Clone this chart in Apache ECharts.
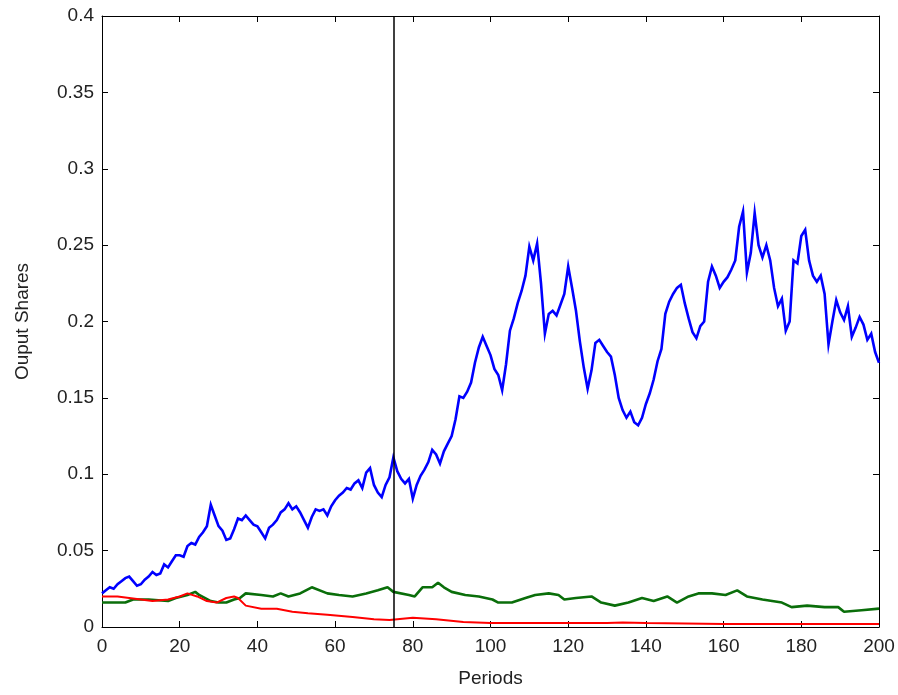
<!DOCTYPE html>
<html>
<head>
<meta charset="utf-8">
<script src="https://cdn.jsdelivr.net/npm/echarts@6/dist/echarts.min.js"></script>
<style>
  html, body { margin: 0; padding: 0; background: #fff; }
  #main { width: 898px; height: 695px; }
</style>
</head>
<body>
<div id="main"></div>
<script>
// output shares, blue series: one value per period 0..200
var blueShare = [
  0.022, 0.024, 0.026, 0.025, 0.028, 0.030, 0.032, 0.033, 0.030, 0.027,
  0.028, 0.031, 0.033, 0.036, 0.034, 0.035, 0.041, 0.039, 0.043, 0.047,
  0.047, 0.046, 0.053, 0.055, 0.054, 0.059, 0.062, 0.066, 0.080, 0.073,
  0.066, 0.063, 0.057, 0.058, 0.064, 0.071, 0.070, 0.073, 0.070, 0.067,
  0.066, 0.062, 0.058, 0.065, 0.067, 0.070, 0.075, 0.077, 0.081, 0.077,
  0.079, 0.075, 0.070, 0.065, 0.072, 0.077, 0.076, 0.077, 0.073, 0.079,
  0.083, 0.086, 0.088, 0.091, 0.090, 0.094, 0.096, 0.091, 0.101, 0.104,
  0.093, 0.088, 0.085, 0.093, 0.098, 0.111, 0.102, 0.097, 0.094, 0.097,
  0.084, 0.093, 0.099, 0.103, 0.108, 0.116, 0.113, 0.107, 0.115, 0.120,
  0.125, 0.136, 0.151, 0.150, 0.154, 0.160, 0.173, 0.183, 0.190, 0.184,
  0.178, 0.169, 0.165, 0.155, 0.172, 0.194, 0.202, 0.212, 0.220, 0.230,
  0.249, 0.240, 0.251, 0.225, 0.192, 0.205, 0.207, 0.204, 0.211, 0.218,
  0.236, 0.222, 0.207, 0.187, 0.170, 0.156, 0.168, 0.186, 0.188, 0.184,
  0.180, 0.177, 0.165, 0.150, 0.142, 0.137, 0.141, 0.134, 0.132, 0.137,
  0.146, 0.153, 0.162, 0.174, 0.182, 0.205, 0.213, 0.218, 0.222, 0.224,
  0.212, 0.202, 0.193, 0.189, 0.197, 0.200, 0.226, 0.236, 0.230, 0.222,
  0.226, 0.229, 0.234, 0.240, 0.262, 0.272, 0.232, 0.245, 0.271, 0.250,
  0.242, 0.250, 0.240, 0.222, 0.210, 0.215, 0.194, 0.200, 0.240, 0.238,
  0.256, 0.260, 0.240, 0.230, 0.226, 0.230, 0.218, 0.185, 0.200, 0.214,
  0.206, 0.201, 0.210, 0.190, 0.196, 0.203, 0.198, 0.188, 0.192, 0.180,
  0.173
];

// green series
var greenPeriods = [0, 3, 6, 8, 12, 17, 19, 22, 24, 25, 28, 30, 32, 34, 35.5, 37, 41, 44, 46, 48,
  51, 54, 58, 61, 64.5, 68, 71, 73.5, 75, 79, 80.5, 82.5, 85, 86.5, 88, 90, 93.5, 97, 100.5, 102,
  105.5, 109, 111.5, 115, 117.5, 119, 122, 126, 128.5, 132, 135.5, 139, 142, 145.5, 148, 151, 153.5, 157, 160.5, 163.5,
  166, 170, 172.5, 175, 177.5, 181.5, 186, 189.5, 191, 195.5, 200];
var greenShare = [0.016, 0.016, 0.016, 0.018, 0.018, 0.017, 0.019, 0.021, 0.023, 0.021, 0.017, 0.016, 0.016, 0.018, 0.019, 0.022, 0.021, 0.020, 0.022, 0.020,
  0.022, 0.026, 0.022, 0.021, 0.020, 0.022, 0.024, 0.026, 0.023, 0.021, 0.020, 0.026, 0.026, 0.029, 0.026, 0.023, 0.021, 0.020, 0.018, 0.016,
  0.016, 0.019, 0.021, 0.022, 0.021, 0.018, 0.019, 0.020, 0.016, 0.014, 0.016, 0.019, 0.017, 0.020, 0.016, 0.020, 0.022, 0.022, 0.021, 0.024,
  0.020, 0.018, 0.017, 0.016, 0.013, 0.014, 0.013, 0.013, 0.010, 0.011, 0.012];

// red series
var redPeriods = [0, 4, 10, 13, 17, 20, 22, 24.5, 27, 29.5, 32, 34, 35, 37, 41, 45, 49, 53, 58, 64.5,
  70, 74, 80, 86, 93, 100, 130, 134, 140, 160, 200];
var redShare = [0.020, 0.020, 0.018, 0.017, 0.018, 0.020, 0.022, 0.020, 0.017, 0.016, 0.019, 0.020, 0.019, 0.014, 0.012, 0.012, 0.010, 0.009, 0.008, 0.0065,
  0.005, 0.0046, 0.006, 0.005, 0.0033, 0.0026, 0.0026, 0.003, 0.0026, 0.002, 0.002];

var xTicks = { min: 0, max: 200, step: 20 };
var yTicks = { min: 0, max: 0.4, step: 0.05 };
var markPeriod = 75;

function pairs(xs, ys) {
  var out = [];
  for (var i = 0; i < ys.length; i++) out.push([xs ? xs[i] : i, ys[i]]);
  return out;
}

var myChart = echarts.init(document.getElementById('main'));
var font = 'Liberation Sans, Arial, sans-serif';
var axisCommon = {
  type: 'value',
  axisLine: { show: true, onZero: false, lineStyle: { color: '#000', width: 1 } },
  axisTick: { show: true, inside: true, length: 6, lineStyle: { color: '#000' } },
  splitLine: { show: false },
  axisLabel: { color: '#222', fontSize: 19, fontFamily: font }
};

myChart.setOption({
  animation: false,
  backgroundColor: '#fff',
  grid: { left: 102, right: 19, top: 16, bottom: 68 },
  xAxis: [
    echarts.util.merge({
      position: 'bottom', min: xTicks.min, max: xTicks.max, interval: xTicks.step,
      name: 'Periods', nameLocation: 'middle', nameGap: 42,
      nameTextStyle: { color: '#222', fontSize: 19, fontFamily: font },
      axisLabel: { margin: 10 }
    }, axisCommon),
    echarts.util.merge({
      position: 'top', min: xTicks.min, max: xTicks.max, interval: xTicks.step,
      axisLabel: { show: false }
    }, axisCommon)
  ],
  yAxis: [
    echarts.util.merge({
      position: 'left', min: yTicks.min, max: yTicks.max, interval: yTicks.step,
      name: 'Ouput Shares', nameLocation: 'middle', nameGap: 70,
      nameTextStyle: { color: '#222', fontSize: 19, fontFamily: font },
      axisLabel: { margin: 8, formatter: function (v) { return String(parseFloat(v.toFixed(2))); } }
    }, axisCommon),
    echarts.util.merge({
      position: 'right', min: yTicks.min, max: yTicks.max, interval: yTicks.step,
      axisLabel: { show: false }
    }, axisCommon)
  ],
  series: [
    {
      type: 'line', name: 'blue', showSymbol: false, symbol: 'none',
      lineStyle: { color: '#0000ff', width: 2.6, join: 'miter' },
      data: pairs(null, blueShare),
      markLine: {
        silent: true, symbol: 'none', label: { show: false },
        lineStyle: { color: '#000', width: 1.5, type: 'solid' },
        data: [{ xAxis: markPeriod }]
      }
    },
    {
      type: 'line', name: 'green', showSymbol: false, symbol: 'none',
      lineStyle: { color: '#0a6e0a', width: 2.6 },
      data: pairs(greenPeriods, greenShare)
    },
    {
      type: 'line', name: 'red', showSymbol: false, symbol: 'none',
      lineStyle: { color: '#ff0000', width: 2 },
      data: pairs(redPeriods, redShare)
    }
  ]
});
</script>
</body>
</html>
